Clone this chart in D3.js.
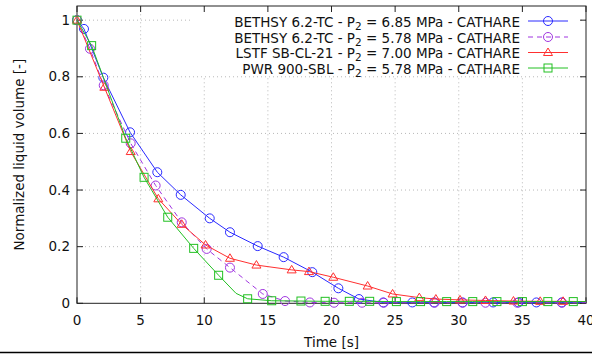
<!DOCTYPE html>
<html><head><meta charset="utf-8">
<script src="https://cdn.jsdelivr.net/npm/d3@7"></script>
<style>body{margin:0;background:#fff}svg{display:block;font-family:"DejaVu Sans",sans-serif}</style>
</head><body>
<svg id="c" width="592" height="354"></svg>
<script>
// ---- data ----
const xTicks = [0,5,10,15,20,25,30,35,40];
const yTicks = [0,0.2,0.4,0.6,0.8,1];
const yTickLabels = ["0","0.2","0.4","0.6","0.8","1"];
const seriesNames = [
  ["BETHSY 6.2-TC - P","2"," = 6.85 MPa - CATHARE"],
  ["BETHSY 6.2-TC - P","2"," = 5.78 MPa - CATHARE"],
  ["LSTF SB-CL-21 - P","2"," = 7.00 MPa - CATHARE"],
  ["PWR 900-SBL - P","2"," = 5.78 MPa - CATHARE"]
];
// BETHSY 6.85 MPa
const blueT = [0,0.55,2.07,4.17,6.31,8.15,10.43,12.02,14.2,16.24,18.49,20.54,22.16,24.07,26.35,28.06,30.3,32.7,34.7,36.1,38.1,40];
const blueV = [1,0.969,0.797,0.604,0.463,0.383,0.300,0.251,0.202,0.163,0.110,0.053,0.015,0.003,0.003,0.003,0.003,0.003,0.003,0.003,0.003,0.003];
const blueMarkT = [0,0.55,2.07,4.17,6.31,8.15,10.43,12.02,14.2,16.24,18.49,20.54,22.16,24.07,26.35,28.06,30.3,32.7,34.7,36.1,38.1];
const blueMarkV = [1,0.969,0.797,0.604,0.463,0.383,0.300,0.251,0.202,0.163,0.110,0.053,0.015,0.003,0.003,0.003,0.003,0.003,0.003,0.003,0.003];
// BETHSY 5.78 MPa
const purpleT = [0,1.02,2.1,4.22,6.18,8.23,10.19,12.02,14.6,16.35,18.3,20.2,22.4,24.1,28.1,30.3,32.1,34.6,38.1,40];
const purpleV = [1,0.899,0.77,0.565,0.416,0.286,0.192,0.126,0.033,0.008,0.003,0.002,0.002,0.002,0.002,0.002,0.002,0.002,0.002,0.002];
const purpleMarkT = [0,1.02,2.1,4.22,6.18,8.23,10.19,12.02,14.6,16.35,18.3,20.2,22.4,24.1,28.1,30.3,32.1,34.6,38.1];
const purpleMarkV = [1,0.899,0.77,0.565,0.416,0.286,0.192,0.126,0.033,0.008,0.003,0.002,0.002,0.002,0.002,0.002,0.002,0.002,0.002];
// LSTF SB-CL-21
const redT = [0,2.15,4.22,6.39,8.23,10.1,12.02,14.1,16.87,18.23,20.14,22.84,24.8,26.9,28.2,30.1,32.1,34.3,36.4,38.2,40];
const redV = [1,0.763,0.536,0.369,0.279,0.206,0.159,0.135,0.118,0.112,0.092,0.061,0.033,0.020,0.015,0.012,0.010,0.008,0.007,0.007,0.006];
const redMarkT = [0,2.15,4.22,6.39,8.23,10.1,12.02,14.1,16.87,18.23,20.14,22.84,24.8,26.9,28.2,30.1,32.1,34.3,36.4,38.2];
const redMarkV = [1,0.763,0.536,0.369,0.279,0.206,0.159,0.135,0.118,0.112,0.092,0.061,0.033,0.020,0.015,0.012,0.010,0.008,0.007,0.007];
// PWR 900-SBL
const greenT = [0,1.15,3.83,5.27,7.13,9.17,11.13,12.5,13.41,15.3,17.6,19.5,21.4,23.0,25.1,27.0,29.05,31.1,33.0,35.0,37.0,39.0,40];
const greenV = [1,0.91,0.583,0.445,0.304,0.194,0.099,0.035,0.016,0.009,0.008,0.007,0.007,0.007,0.006,0.006,0.006,0.006,0.006,0.006,0.006,0.006,0.006];
const greenMarkT = [0,1.15,3.83,5.27,7.13,9.17,11.13,13.41,15.3,17.6,19.5,21.4,23.0,25.1,27.0,29.05,31.1,33.0,35.0,37.0,39.0];
const greenMarkV = [1,0.91,0.583,0.445,0.304,0.194,0.099,0.016,0.009,0.008,0.007,0.007,0.007,0.006,0.006,0.006,0.006,0.006,0.006,0.006,0.006];

const colors = ["#2a2aff","#a035e0","#ff3030","#22c022"];
const shapes = ["circle","circle","triangle","square"];
const dashes = [null,"5,4",null,null];

// ---- layout ----
const svg = d3.select("#c");
const L = 77, R = 586, T = 6, B = 303.3;
const x = d3.scaleLinear().domain([0,40]).range([L,R]);
const y = d3.scaleLinear().domain([0,1.05]).range([B,T]);

// grid
const g = svg.append("g");
g.selectAll(".gx").data(xTicks.filter(d=>d>0&&d<40)).enter().append("line")
  .attr("x1",d=>x(d)).attr("x2",d=>x(d)).attr("y1",y(0)).attr("y2",y(1.05))
  .attr("stroke","#b8b8b8").attr("stroke-width",1).attr("stroke-dasharray","1,3");
g.selectAll(".gy").data(yTicks.filter(d=>d>0)).enter().append("line")
  .attr("x1",x(0)).attr("x2",x(40)).attr("y1",d=>y(d)).attr("y2",d=>y(d))
  .attr("stroke","#b8b8b8").attr("stroke-width",1).attr("stroke-dasharray","1,3");

// legend background (opaque)
svg.append("rect").attr("x",193).attr("y",T+1).attr("width",387).attr("height",69).attr("fill","#fff");

// axes (ticks inward, mirrored)
const ax = svg.append("g").attr("stroke","#222");
const tl = 6;
xTicks.forEach(t=>{
  ax.append("line").attr("x1",x(t)).attr("x2",x(t)).attr("y1",B).attr("y2",B-tl);
  ax.append("line").attr("x1",x(t)).attr("x2",x(t)).attr("y1",T).attr("y2",T+tl);
});
yTicks.forEach(t=>{
  ax.append("line").attr("x1",L).attr("x2",L+tl).attr("y1",y(t)).attr("y2",y(t));
  ax.append("line").attr("x1",R).attr("x2",R-tl).attr("y1",y(t)).attr("y2",y(t));
});
svg.append("rect").attr("x",L).attr("y",T).attr("width",R-L).attr("height",B-T)
  .attr("fill","none").attr("stroke","#222").attr("stroke-width",1);

// tick labels
const fs = 13.5;
svg.selectAll(".xl").data(xTicks).enter().append("text")
  .attr("x",d=>x(d)).attr("y",B+22).attr("text-anchor","middle").attr("font-size",fs).attr("fill","#111")
  .text(d=>d);
svg.selectAll(".yl").data(yTicks).enter().append("text")
  .attr("x",L-7).attr("y",d=>y(d)+4.5).attr("text-anchor","end").attr("font-size",fs).attr("fill","#111")
  .text((d,i)=>yTickLabels[i]);

// axis titles
svg.append("text").attr("x",x(20)).attr("y",347).attr("text-anchor","middle").attr("font-size",fs).attr("fill","#111").text("Time [s]");
svg.append("text").attr("transform",`translate(23.5,${(T+B)/2}) rotate(-90)`).attr("text-anchor","middle")
  .attr("font-size",fs).attr("fill","#111").text("Normalized liquid volume [-]");

// bottom separator
svg.append("line").attr("x1",0).attr("x2",592).attr("y1",352.5).attr("y2",352.5).attr("stroke","#000").attr("stroke-width",1.5);

// series
const lineGen = d3.line().x(d=>x(d[0])).y(d=>y(d[1]));
const series = [
  [blueT,blueV,blueMarkT,blueMarkV],
  [purpleT,purpleV,purpleMarkT,purpleMarkV],
  [redT,redV,redMarkT,redMarkV],
  [greenT,greenV,greenMarkT,greenMarkV]
];
function drawMarker(sel, shape, cx, cy, col){
  if(shape==="circle") sel.append("circle").attr("cx",cx).attr("cy",cy).attr("r",4.5).attr("fill","none").attr("stroke",col).attr("stroke-width",1);
  else if(shape==="square") sel.append("rect").attr("x",cx-4).attr("y",cy-4).attr("width",8).attr("height",8).attr("fill","none").attr("stroke",col).attr("stroke-width",1);
  else sel.append("path").attr("d",`M${cx},${cy-4.5}L${cx+4.5},${cy+3}L${cx-4.5},${cy+3}Z`).attr("fill","none").attr("stroke",col).attr("stroke-width",1);
}
const dataG = svg.append("g");
series.forEach((s,i)=>{
  const pts = s[0].map((t,k)=>[t,s[1][k]]);
  const p = dataG.append("path").attr("d",lineGen(pts)).attr("fill","none").attr("stroke",colors[i]).attr("stroke-width",1);
  if(dashes[i]) p.attr("stroke-dasharray",dashes[i]);
  s[2].forEach((t,k)=>drawMarker(dataG, shapes[i], x(t), y(s[3][k]), colors[i]));
});

// legend
const rowsY = [21,37,52.5,68];
seriesNames.forEach((nm,i)=>{
  const t = svg.append("text").attr("x",520).attr("y",rowsY[i]+5.5).attr("text-anchor","end").attr("font-size",fs).attr("fill","#111");
  t.append("tspan").text(nm[0]);
  t.append("tspan").attr("dy",3).attr("font-size",10.5).text(nm[1]);
  t.append("tspan").attr("dy",-3).text(nm[2]);
  const ln = svg.append("line").attr("x1",528).attr("x2",568).attr("y1",rowsY[i]).attr("y2",rowsY[i]).attr("stroke",colors[i]).attr("stroke-width",1);
  if(dashes[i]) ln.attr("stroke-dasharray",dashes[i]);
  drawMarker(svg, shapes[i], 548, rowsY[i], colors[i]);
});
</script>
</body></html>
